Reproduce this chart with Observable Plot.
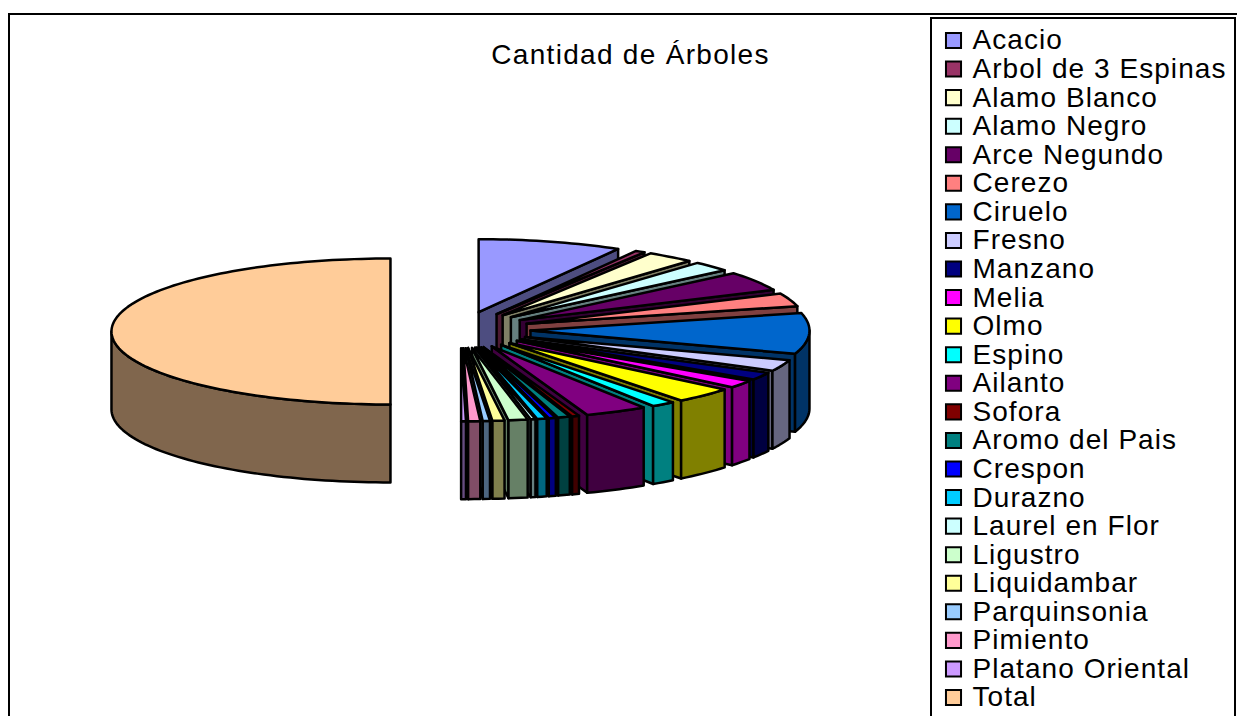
<!DOCTYPE html>
<html><head><meta charset="utf-8">
<script src="https://cdn.jsdelivr.net/npm/d3@7"></script>
<script src="https://cdn.jsdelivr.net/npm/@observablehq/plot@0.6"></script>
<style>
html,body{margin:0;padding:0;background:#fff;overflow:hidden}
#page{position:relative;width:1237px;height:716px;overflow:hidden;background:#fff}
#page svg{position:absolute;background:transparent;font-family:"Liberation Sans",Arial,sans-serif}
#area{position:absolute;left:8px;top:13px;width:1240px;height:720px;border:2px solid #000;box-sizing:border-box}
#legendBox{position:absolute;left:930px;top:17px;width:306px;height:720px;border:2px solid #000;box-sizing:border-box;background:#fff}
.wideTitle text{letter-spacing:1.3px}
.wideLegend text{letter-spacing:1.05px}
</style></head>
<body><div id="page"><div id="area"></div><div id="legendBox"></div></div>
<script>
const titleText = "Cantidad de Árboles";
const categories = ["Acacio","Arbol de 3 Espinas","Alamo Blanco","Alamo Negro","Arce Negundo","Cerezo","Ciruelo","Fresno","Manzano","Melia","Olmo","Espino","Ailanto","Sofora","Aromo del Pais","Crespon","Durazno","Laurel en Flor","Ligustro","Liquidambar","Parquinsonia","Pimiento","Platano Oriental","Total"];
const values = [300,20,100,80,155,105,325,90,60,60,125,50,130,15,25,15,20,10,40,25,15,25,10,1800];
const colors = ["#9999ff","#993366","#ffffcc","#ccffff","#660066","#ff8080","#0066cc","#ccccff","#000080","#ff00ff","#ffff00","#00ffff","#800080","#800000","#008080","#0000ff","#00ccff","#ccffff","#ccffcc","#ffff99","#99ccff","#ff99cc","#cc99ff","#ffcc99"];

// Pie geometry, in units of the pie's radius
const explode = 0.251, depth = 1.068, lift = 0.022;
const sum = d3.sum(values);
const rad = d => d * Math.PI / 180;
const shade = c => { const k = d3.rgb(c); return d3.rgb(k.r/2, k.g/2, k.b/2).formatHex(); };

const rows = [];
function face(id, fill, pts){
  [...pts, pts[0]].forEach(([x,y]) => rows.push({id, fill, x, y}));
}
let acc = 0;
categories.forEach((name,i) => {
  const a0 = acc, a1 = acc + values[i] / sum * 360; acc = a1;
  const m = (a0 + a1) / 2;
  const ox = explode * Math.sin(rad(m)), oy = explode * Math.cos(rad(m)) + (m < 180 ? lift : 0);
  const pt = (a, z) => [ox + Math.sin(rad(a)), oy + Math.cos(rad(a)) - z * depth];
  const apex = z => [ox, oy - z * depth];
  const arc = (from, to, z) => { const n = Math.max(1, Math.ceil(Math.abs(to-from)/1.5));
    return d3.range(n+1).map(j => pt(from + (to-from)*j/n, z)); };
  const side = shade(colors[i]);
  if (a1 < 180) face(name+"-end", side, [apex(0), pt(a1,0), pt(a1,1), apex(1)]);
  const w0 = Math.max(a0,90), w1 = Math.min(a1,270);
  if (w1 > w0) face(name+"-rim", side, [...arc(w0,w1,0), ...arc(w1,w0,1)]);
  face(name+"-top", colors[i], [apex(0), ...arc(a0,a1,0)]);
});

// Pixel placement of the pie
const W = 925, H = 716, cx = 460, cy = 331, rx = 279, ry = 73;
const pie = Plot.plot({
  width: W, height: H, margin: 0,
  x: {domain: [-cx/rx, (W-cx)/rx], axis: null},
  y: {domain: [(cy-H)/ry, cy/ry], axis: null},
  color: {type: "identity"},
  marks: [
    Plot.line(rows, {x:"x", y:"y", z:"id", fill:"fill", stroke:"#000", strokeWidth:2.5, curve:"linear", strokeLinejoin:"round"}),
    Plot.text([titleText], {text:d=>d, frameAnchor:"top-left", dx:630, dy:55, textAnchor:"middle", lineAnchor:"middle", fontSize:28, fill:"#000", className:"wideTitle"})
  ]
});
pie.style.left = "0px"; pie.style.top = "0px";
document.getElementById("page").appendChild(pie);

const legend = Plot.plot({
  width: 304, height: H, margin: 0,
  x: {domain:[0,1], axis:null},
  y: {type:"point", domain: categories, range:[40,697], padding:0, round:false, axis:null},
  color: {type:"identity"},
  marks: [
    Plot.dot(categories, {y:d=>d, frameAnchor:"left", dx:22, symbol:"square", r:8.5, fill:(d,i)=>colors[i], stroke:"#000", strokeWidth:2}),
    Plot.text(categories, {y:d=>d, text:d=>d, frameAnchor:"left", dx:41, textAnchor:"start", lineAnchor:"middle", fontSize:28, fill:"#000", className:"wideLegend"})
  ]
});
legend.style.left = "931px"; legend.style.top = "0px";
document.getElementById("page").appendChild(legend);
</script></body></html>
